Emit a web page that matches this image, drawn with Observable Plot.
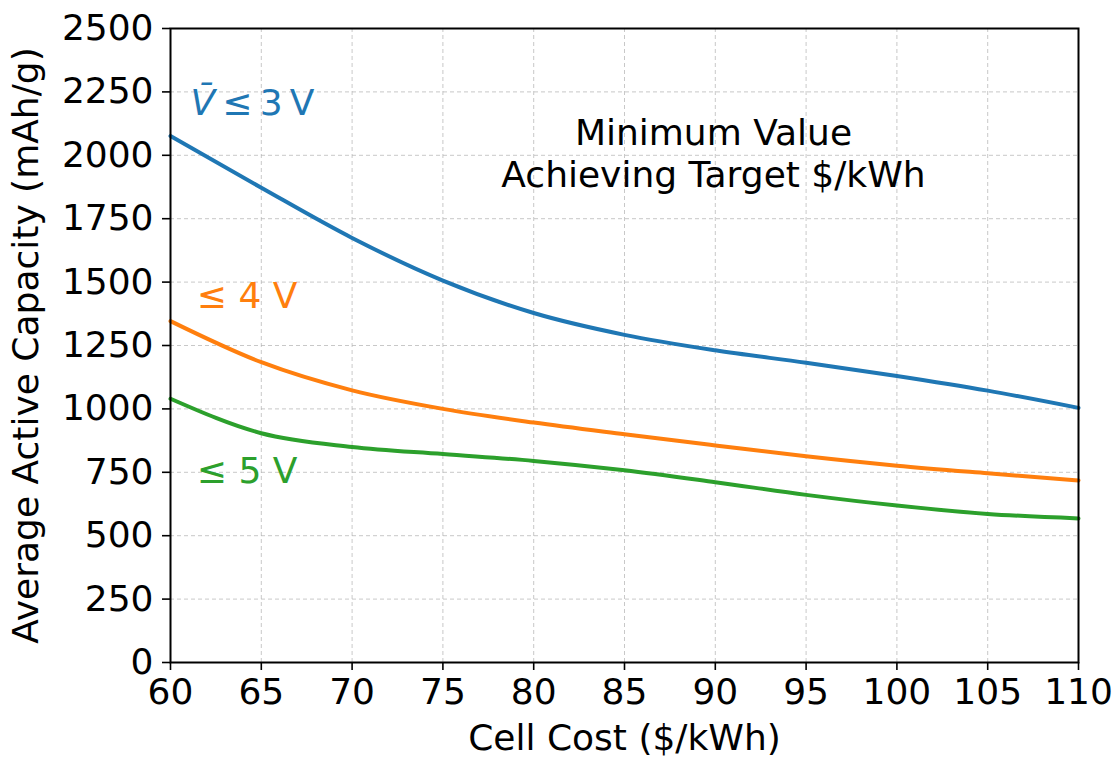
<!DOCTYPE html>
<html>
<head>
<meta charset="utf-8">
<script src="https://cdn.jsdelivr.net/npm/d3@7"></script>
<script src="https://cdn.jsdelivr.net/npm/@observablehq/plot@0.6"></script>
<style>
  html, body { margin: 0; padding: 0; background: white; }
  svg { display: block; }
</style>
</head>
<body>
<div id="chart"></div>
<script>
const cost = [60, 65, 70, 75, 80, 85, 90, 95, 100, 105, 110];
const v3 = [2076, 1872, 1674, 1506, 1378, 1292, 1231, 1182, 1130, 1072, 1004];
const v4 = [1346, 1184, 1073, 1000, 946, 900, 856, 813, 776, 746, 718];
const v5 = [1040, 904, 850, 822, 795, 758, 711, 661, 619, 586, 568];

const seriesNames = ["≤3 V", "≤4 V", "≤5 V"];
const seriesColors = ["#1f77b4", "#ff7f0e", "#2ca02c"];
const seriesValues = [v3, v4, v5];

const xTicks = [60, 65, 70, 75, 80, 85, 90, 95, 100, 105, 110];
const yTicks = [0, 250, 500, 750, 1000, 1250, 1500, 1750, 2000, 2250, 2500];

// annotation labels (data coordinates)
const labels = [
  {x: 61.1, y: 2204, text: "\u2009≤\u20093\u2009V", color: "#1f77b4"},
  {x: 61.45, y: 1443, text: "≤ 4 V", color: "#ff7f0e"},
  {x: 61.45, y: 753, text: "≤ 5 V", color: "#2ca02c"}
];
const note = {x: 89.9, y: 2010, text: "Minimum Value\nAchieving Target $/kWh"};

const data = [];
seriesNames.forEach((s, i) => {
  cost.forEach((c, j) => data.push({series: s, cost: c, cap: seriesValues[i][j]}));
});

const chart = Plot.plot({
  width: 1115,
  height: 757,
  marginLeft: 170,
  marginRight: 37,
  marginTop: 28,
  marginBottom: 95,
  style: {fontFamily: "DejaVu Sans, sans-serif", fontSize: "36px", color: "black", background: "white"},
  x: {domain: [60, 110]},
  y: {domain: [0, 2500]},
  color: {domain: seriesNames, range: seriesColors},
  marks: [
    Plot.gridX(xTicks, {stroke: "#b0b0b0", strokeOpacity: 0.7, strokeDasharray: "4,3", strokeWidth: 1}),
    Plot.gridY(yTicks, {stroke: "#b0b0b0", strokeOpacity: 0.7, strokeDasharray: "4,3", strokeWidth: 1}),
    Plot.axisX(xTicks, {tickSize: 8, tickPadding: 8, strokeWidth: 1.6, fontSize: 36, tickFormat: "d",
      label: "Cell Cost ($/kWh)", labelAnchor: "center", labelArrow: "none", labelOffset: 87}),
    Plot.axisY(yTicks, {tickSize: 8, tickPadding: 9, strokeWidth: 1.6, fontSize: 36, tickFormat: "d",
      label: "Average Active Capacity (mAh/g)", labelAnchor: "center", labelArrow: "none", labelOffset: 158}),
    Plot.line(data, {x: "cost", y: "cap", z: "series", stroke: "series", strokeWidth: 4, curve: "monotone-x"}),
    Plot.frame({stroke: "black", strokeWidth: 2}),
    Plot.text(labels, {x: "x", y: "y", text: "text", fill: "color", textAnchor: "start", fontSize: 36}),
    Plot.text([note], {x: "x", y: "y", text: "text", fill: "black", textAnchor: "middle", fontSize: 36, lineHeight: 1.16})
  ]
});

// add italic V with macron to first label
const texts = chart.querySelectorAll("text");
texts.forEach(t => {
  if (t.textContent === "\u2009≤\u20093\u2009V") {
    const rest = t.textContent;
    t.textContent = "";
    const ns = "http://www.w3.org/2000/svg";
    const v = document.createElementNS(ns, "tspan");
    v.setAttribute("font-style", "italic");
    v.textContent = "V\u0304";
    const r = document.createElementNS(ns, "tspan");
    r.textContent = rest;
    t.appendChild(v);
    t.appendChild(r);
  }
});

document.getElementById("chart").appendChild(chart);
</script>
</body>
</html>
